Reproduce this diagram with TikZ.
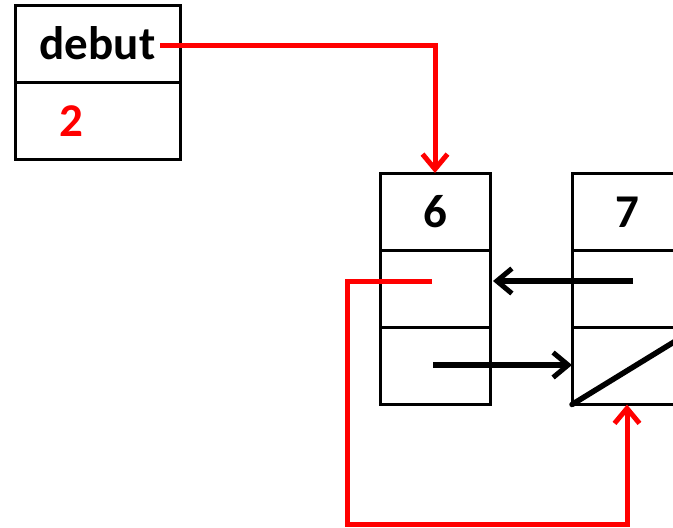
\documentclass[tikz,border=0pt]{standalone}
\usepackage{fontspec}
\setmainfont{Carlito}
\usetikzlibrary{arrows.meta}
\definecolor{pred}{RGB}{255,0,0}
\begin{document}
\begin{tikzpicture}[x=1pt,y=-1pt,
  cell/.style={draw=black,line width=3pt,minimum width=#1,minimum height=77pt,inner sep=0pt,outer sep=0pt,
    font=\fontsize{47}{50}\selectfont\bfseries},
  cell/.default=110pt,
  redline/.style={draw=pred,line width=5pt},
  blackline/.style={draw=black,line width=5.5pt},
  tip/.style={-{Straight Barb[length=15pt,width=25pt,line width=5pt]}},
  lbl/.style={inner sep=0pt,font=\fontsize{47}{50}\selectfont\bfseries}
]
\useasboundingbox (0,0) rectangle (673,528);
\clip (0,0) rectangle (673,528);
% debut block
\node[cell=165pt] (deb) at (97.5,43.5) {debut};
\node[cell=165pt] (val) at (97.5,120.5) {};
\node[lbl,text=pred] (two) at (71,121) {2};
% block 6
\node[cell] (s6) at (435,211.5) {6};
\node[cell] (p6) at (435,288.5) {};
\node[cell] (n6) at (435,365.5) {};
% block 7
\node[cell] (s7) at (627,212) {7};
\node[cell] (p7) at (627,289) {};
\node[cell] (n7) at (627,366) {};
\coordinate (far) at (700,326);
\draw[black,line width=5.5pt,line cap=round] (n7.south west) -- (far);
% connectors
\coordinate (dstart) at (160,45);
\coordinate (s2) at (432,281);
\coordinate (lp) at (347,524);
\coordinate (b1) at (633,281);
\coordinate (b2) at (433,365);
\draw[redline,tip] (dstart) -| (s6.north);
\draw[redline,tip] (s2) -| (lp) -| (n7.south);
\draw[blackline,tip] (b1) -- ([xshift=3pt]p6.east |- b1);
\draw[blackline,tip] (b2) -- (n7.west |- b2);
\end{tikzpicture}
\end{document}
